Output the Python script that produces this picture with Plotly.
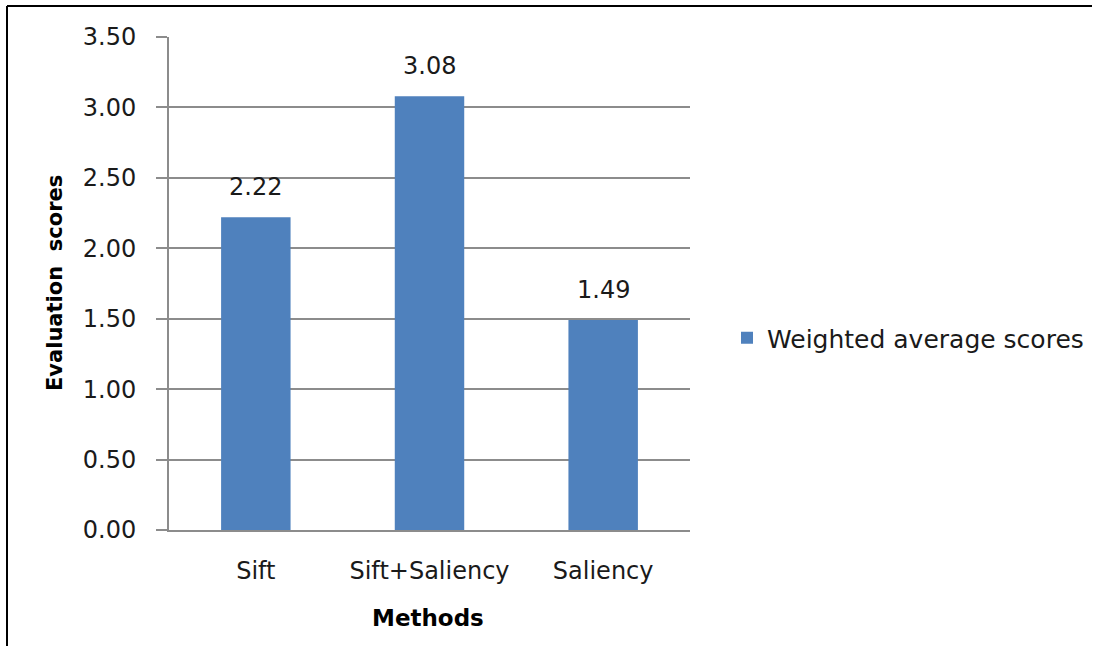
import plotly.graph_objects as go

categories = ["Sift", "Sift+Saliency", "Saliency"]
values = [2.22, 3.08, 1.49]
value_labels = ["2.22", "3.08", "1.49"]
series_name = "Weighted average scores"
y_ticks = [0, 0.5, 1.0, 1.5, 2.0, 2.5, 3.0, 3.5]
y_tick_labels = ["0.00", "0.50", "1.00", "1.50", "2.00", "2.50", "3.00", "3.50"]

W, H = 1094, 646
L, R, T, B = 169, 404, 37, 116
pw, ph = W - L - R, H - T - B

FONT = "DejaVu Sans"
TXT = "#1a1a1a"
fig = go.Figure()
fig.add_trace(go.Bar(
    x=categories, y=values, name=series_name,
    marker=dict(color="#4F81BD", line=dict(width=0)),
    showlegend=True,
))

def px2x(px):
    return (px - L) / pw

def py2y(py):
    return (H - B - py) / ph

annotations = [
    dict(x=c, y=v, text=t, xref="x", yref="y", showarrow=False,
         yshift=30, font=dict(family=FONT, size=24, color=TXT),
         xanchor="center", yanchor="middle")
    for c, v, t in zip(categories, values, value_labels)
]
annotations += [
    dict(text="<b>Evaluation  scores</b>", xref="paper", yref="paper",
         x=px2x(55), y=py2y(283), textangle=-90, showarrow=False,
         font=dict(family=FONT, size=21, color="#000"),
         xanchor="center", yanchor="middle"),
    dict(text="<b>Methods</b>", xref="paper", yref="paper",
         x=px2x(428), y=py2y(618), showarrow=False,
         font=dict(family=FONT, size=23, color="#000"),
         xanchor="center", yanchor="middle"),
]

fig.update_layout(
    width=W, height=H,
    margin=dict(l=L, r=R, t=T, b=B, autoexpand=False),
    paper_bgcolor="white", plot_bgcolor="white",
    bargap=0.6,
    font=dict(family=FONT, size=24, color=TXT),
    xaxis=dict(
        showgrid=False, showline=True, linecolor="#8c8c8c", linewidth=2,
        ticks="", ticklabelstandoff=18, automargin=False,
        tickfont=dict(family=FONT, size=24, color=TXT),
    ),
    yaxis=dict(
        range=[0, 3.5], tickvals=y_ticks, ticktext=y_tick_labels,
        showgrid=True, gridcolor="#8c8c8c", gridwidth=2,
        showline=True, linecolor="#8c8c8c", linewidth=2,
        ticks="outside", ticklen=11, tickcolor="#8c8c8c", tickwidth=2,
        ticklabelstandoff=15, zeroline=False, automargin=False,
        tickfont=dict(family=FONT, size=24, color=TXT),
    ),
    legend=dict(
        x=px2x(727), y=py2y(338), xanchor="left", yanchor="middle",
        font=dict(family=FONT, size=25, color=TXT),
        itemwidth=30, bgcolor="rgba(0,0,0,0)",
    ),
    annotations=annotations,
    shapes=[
        dict(type="line", xref="paper", yref="paper",
             x0=px2x(7), x1=px2x(1092), y0=py2y(6), y1=py2y(6),
             line=dict(color="black", width=2)),
        dict(type="line", xref="paper", yref="paper",
             x0=px2x(7), x1=px2x(7), y0=py2y(6), y1=py2y(646),
             line=dict(color="black", width=2)),
    ],
)

fig.write_html("out.html")
